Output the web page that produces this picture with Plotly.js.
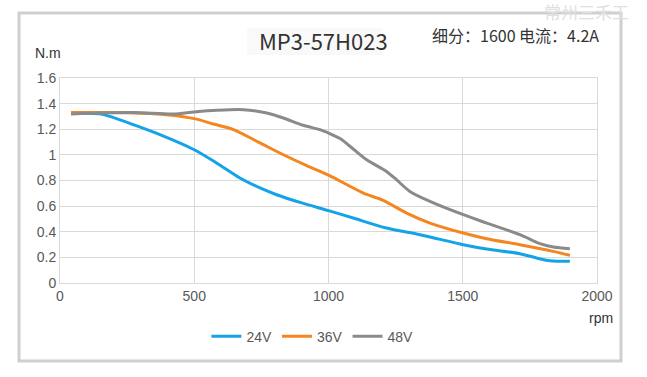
<!DOCTYPE html>
<html>
<head>
<meta charset="utf-8">
<script src="https://cdn.plot.ly/plotly-3.0.1.min.js"></script>
<style>
html,body{margin:0;padding:0;background:#fff;}
#chart{width:647px;height:377px;}
</style>
</head>
<body>
<div id="chart"></div>
<script>
// ---- data ----
const seriesNames = ["24V", "36V", "48V"];
const seriesColors = ["#14a3e6", "#f5861f", "#8a8a8a"];

const rpm24 = [41, 149, 186, 273, 372, 500, 583, 670, 745, 807, 894, 1000, 1092, 1216, 1341, 1502, 1589, 1713, 1775, 1825, 1899];
const tq24  = [1.327, 1.32, 1.30, 1.236, 1.158, 1.04, 0.937, 0.82, 0.742, 0.689, 0.629, 0.565, 0.507, 0.429, 0.377, 0.299, 0.265, 0.229, 0.195, 0.174, 0.169];

const rpm36 = [41, 200, 300, 397, 500, 571, 646, 745, 832, 919, 1000, 1130, 1204, 1291, 1378, 1502, 1589, 1713, 1837, 1899];
const tq36  = [1.33, 1.33, 1.325, 1.314, 1.283, 1.241, 1.197, 1.093, 1.001, 0.916, 0.842, 0.702, 0.645, 0.546, 0.468, 0.39, 0.346, 0.299, 0.247, 0.216];

const rpm48 = [41, 273, 422, 500, 583, 683, 770, 832, 906, 968, 1000, 1043, 1092, 1142, 1216, 1253, 1303, 1378, 1502, 1589, 1713, 1788, 1837, 1899];
const tq48  = [1.32, 1.33, 1.319, 1.335, 1.348, 1.353, 1.327, 1.288, 1.231, 1.197, 1.171, 1.127, 1.046, 0.962, 0.871, 0.806, 0.715, 0.637, 0.533, 0.468, 0.377, 0.307, 0.281, 0.268];

const xTicks = [0, 500, 1000, 1500, 2000];
const yTicks = [0, 0.2, 0.4, 0.6, 0.8, 1, 1.2, 1.4, 1.6];
const yTickText = ["0", "0.2", "0.4", "0.6", "0.8", "1", "1.2", "1.4", "1.6"];

const chartTitle = "MP3-57H023";
const infoText = "细分：1600 电流：4.2A";
const watermark = "常州三禾工";
const yUnit = "N.m";
const xUnit = "rpm";

// ---- build ----
const xs = [rpm24, rpm36, rpm48];
const ys = [tq24, tq36, tq48];
const traces = seriesNames.map((n, i) => ({
  type: "scatter", mode: "lines", name: n,
  x: xs[i], y: ys[i],
  line: {color: seriesColors[i], width: 3, shape: "spline", smoothing: 0.8}
}));

const tickFont = {family: "Liberation Sans, Arial, sans-serif", size: 14, color: "#595959"};

const layout = {
  width: 647, height: 377,
  margin: {l: 60, r: 50, t: 78, b: 94},
  paper_bgcolor: "#ffffff", plot_bgcolor: "#ffffff",
  showlegend: true,
  legend: {
    orientation: "h", x: 0.47, xanchor: "center", y: -0.262, yanchor: "middle",
    font: {family: "Liberation Sans, Arial, sans-serif", size: 14, color: "#595959"},
    itemwidth: 30, tracegroupgap: 0, bgcolor: "rgba(0,0,0,0)"
  },
  xaxis: {
    range: [0, 2000], tickvals: xTicks, ticktext: xTicks.map(String),
    showgrid: true, gridcolor: "#d9d9d9", gridwidth: 1,
    zeroline: false, showline: true, linecolor: "#d9d9d9", linewidth: 1, mirror: true,
    ticks: "", tickfont: tickFont, fixedrange: true
  },
  yaxis: {
    range: [0, 1.6], tickvals: yTicks, ticktext: yTickText,
    showgrid: true, gridcolor: "#d9d9d9", gridwidth: 1,
    zeroline: false, showline: true, linecolor: "#d9d9d9", linewidth: 1, mirror: true,
    ticks: "", ticklen: 0, tickfont: tickFont, fixedrange: true
  },
  shapes: [
    {type: "rect", xref: "paper", yref: "paper",
     x0: -41/537, x1: 561/537, y0: -78/205, y1: 270/205,
     line: {color: "#cfcfcf", width: 3}, fillcolor: "rgba(0,0,0,0)", layer: "below"},
    {type: "rect", xref: "paper", yref: "paper",
     x0: 187/537, x1: 323/537, y0: 228/205, y1: 255/205,
     line: {width: 0}, fillcolor: "#f9f9f9", layer: "below"}
  ],
  annotations: [
    {text: chartTitle, xref: "paper", yref: "paper", x: 263.5/537, y: 243.5/205,
     xanchor: "center", yanchor: "middle", showarrow: false,
     font: {family: "Noto Sans CJK SC, Noto Sans, sans-serif", size: 22, color: "#333333"}},
    {text: infoText, xref: "paper", yref: "paper", x: 371/537, y: 248/205,
     xanchor: "left", yanchor: "middle", showarrow: false, borderpad: 0,
     font: {family: "Noto Sans CJK SC, sans-serif", size: 16, color: "#333333"}},
    {text: watermark, xref: "paper", yref: "paper", x: 526/537, y: 271/205,
     xanchor: "center", yanchor: "middle", showarrow: false, borderpad: 0,
     font: {family: "Noto Sans CJK SC, sans-serif", size: 17, color: "#e0e0e0"}},
    {text: yUnit, xref: "paper", yref: "paper", x: -27/537, y: 230/205,
     xanchor: "left", yanchor: "middle", showarrow: false,
     font: {family: "Liberation Sans, Arial, sans-serif", size: 14, color: "#333333"}},
    {text: xUnit, xref: "paper", yref: "paper", x: 541/537, y: -35/205,
     xanchor: "center", yanchor: "middle", showarrow: false,
     font: {family: "Liberation Sans, Arial, sans-serif", size: 14, color: "#333333"}}
  ]
};

Plotly.newPlot("chart", traces, layout, {displayModeBar: false, staticPlot: true});
</script>
</body>
</html>
